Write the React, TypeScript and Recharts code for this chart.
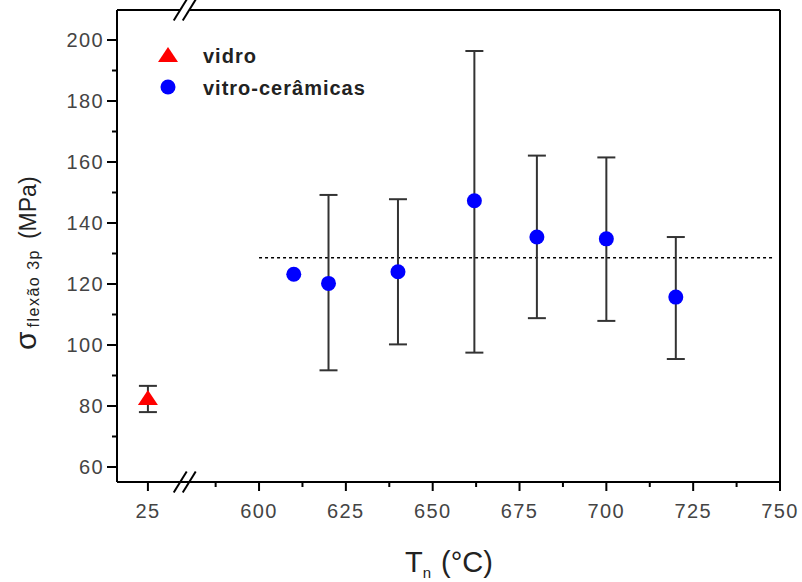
import React from 'react';
import { ScatterChart, Scatter, XAxis, YAxis, ErrorBar, ReferenceLine, Legend } from 'recharts';

// ---- data ----
const SERIES_NAMES = ['vidro', 'vitro-cerâmicas'];
const SERIES_COLORS = ['#ff0000', '#0000ff'];

const VIDRO_T = [25];
const VIDRO_S = [82.6];
const VIDRO_HI = [86.6];
const VIDRO_LO = [78.0];

const VC_T = [610, 620, 640, 662, 680, 700, 720];
const VC_S = [123.2, 120.2, 124.0, 147.3, 135.4, 134.8, 115.7];
const VC_HI: (number | null)[] = [null, 149.2, 147.8, 196.4, 162.1, 161.5, 135.4];
const VC_LO: (number | null)[] = [null, 91.7, 100.2, 97.5, 108.8, 107.9, 95.4];

const MEAN_S = 128.6;
const MEAN_T_RANGE = [600, 748.5];

const X_MAJOR_REAL = [25, 600, 625, 650, 675, 700, 725, 750];
const X_MAJOR_LABELS = ['25', '600', '625', '650', '675', '700', '725', '750'];
const X_MINOR_REAL = [587.5, 612.5, 637.5, 662.5, 687.5, 712.5, 737.5];
const Y_MAJOR = [60, 80, 100, 120, 140, 160, 180, 200];
const Y_MINOR = [70, 90, 110, 130, 150, 170, 190];

// ---- broken axis helpers ----
const BREAK_REAL = 600;
const LEFT_SEG_SHIFT = 543; // 25 sits at axis position 568
const toAxis = (t: number) => (t >= BREAK_REAL ? t : t + LEFT_SEG_SHIFT);
const X_DOMAIN: [number, number] = [559.1, 750];
const Y_DOMAIN: [number, number] = [55.08, 209.84];
const BREAK_MARKS = [577.3, 579.9];
const BREAK_DX = 1.87;
const BREAK_DY = 3.44;

const FONT = '"Liberation Sans", Arial, sans-serif';

const vidroData = VIDRO_T.map((t, i) => ({
  x: toAxis(t),
  y: VIDRO_S[i],
  err: [VIDRO_S[i] - VIDRO_LO[i], VIDRO_HI[i] - VIDRO_S[i]],
}));

const vcData = VC_T.map((t, i) => ({
  x: toAxis(t),
  y: VC_S[i],
  err:
    VC_HI[i] == null || VC_LO[i] == null
      ? null
      : [VC_S[i] - (VC_LO[i] as number), (VC_HI[i] as number) - VC_S[i]],
}));

const X_TICKS = [...X_MAJOR_REAL.map(toAxis), ...X_MINOR_REAL].sort((a, b) => a - b);
const Y_TICKS = [...Y_MAJOR, ...Y_MINOR].sort((a, b) => a - b);

const xLabelFor = (pos: number) => {
  const idx = X_MAJOR_REAL.findIndex((r) => Math.abs(toAxis(r) - pos) < 1e-6);
  return idx >= 0 ? X_MAJOR_LABELS[idx] : null;
};

const renderXTick = (props: any) => {
  const { x, y, payload } = props;
  const label = xLabelFor(payload.value);
  const major = label !== null;
  return (
    <g>
      <line x1={x} y1={y} x2={x} y2={y + (major ? 9 : 5)} stroke="#000" strokeWidth={2} />
      {major && (
        <text
          x={x}
          y={y + 36}
          textAnchor="middle"
          fontFamily={FONT}
          fontSize={20}
          letterSpacing={1.4}
          fill="#444"
        >
          {label}
        </text>
      )}
    </g>
  );
};

const renderYTick = (props: any) => {
  const { x, y, payload } = props;
  const major = Y_MAJOR.includes(payload.value);
  return (
    <g>
      <line x1={x} y1={y} x2={x - (major ? 10 : 5)} y2={y} stroke="#000" strokeWidth={2} />
      {major && (
        <text
          x={x - 13}
          y={y + 7}
          textAnchor="end"
          fontFamily={FONT}
          fontSize={20}
          letterSpacing={1.4}
          fill="#444"
        >
          {payload.value}
        </text>
      )}
    </g>
  );
};

const renderYLabel = () => (
  <text
    x={36}
    y={350}
    transform="rotate(-90, 36, 350)"
    textAnchor="start"
    fontFamily={FONT}
    fill="#222"
  >
    <tspan fontSize={30}>σ</tspan>
    <tspan fontSize={16} dy={3} dx={4} letterSpacing={1.5}>
      flexão 3p
    </tspan>
    <tspan fontSize={23} dy={-3} dx={10}>
      (MPa)
    </tspan>
  </text>
);

const renderXLabel = () => (
  <text x={405} y={572} fontFamily={FONT} fill="#222">
    <tspan fontSize={29}>T</tspan>
    <tspan fontSize={15} dy={6}>
      n
    </tspan>
    <tspan fontSize={29} dy={-6} dx={10}>
      (°C)
    </tspan>
  </text>
);

const renderLegend = () => (
  <div style={{ fontFamily: FONT, fontWeight: 700, fontSize: 20, letterSpacing: 1.0, color: '#222' }}>
    {SERIES_NAMES.map((name, i) => (
      <div key={name} style={{ display: 'flex', alignItems: 'center', height: 32 }}>
        <svg width={24} height={24} style={{ marginRight: 23, flex: 'none' }}>
          {i === 0 ? (
            <polygon points="12,4 2,19 22,19" fill={SERIES_COLORS[i]} />
          ) : (
            <circle cx={12} cy={12} r={7.5} fill={SERIES_COLORS[i]} />
          )}
        </svg>
        <span style={{ paddingTop: 3 }}>{name}</span>
      </div>
    ))}
  </div>
);

const triangleShape = (props: any) => {
  const { cx, cy } = props;
  return <polygon points={`${cx},${cy - 8} ${cx - 10},${cy + 7} ${cx + 10},${cy + 7}`} fill={SERIES_COLORS[0]} />;
};

const circleShape = (props: any) => {
  const { cx, cy } = props;
  return <circle cx={cx} cy={cy} r={7.5} fill={SERIES_COLORS[1]} />;
};

const breakLines = (yy: number, keyPrefix: string) => [
  <ReferenceLine
    key={`${keyPrefix}-gap`}
    segment={[
      { x: BREAK_MARKS[0], y: yy },
      { x: BREAK_MARKS[1], y: yy },
    ]}
    stroke="#fff"
    strokeWidth={4}
    ifOverflow="visible"
  />,
  ...BREAK_MARKS.map((b, i) => (
    <ReferenceLine
      key={`${keyPrefix}-s${i}`}
      segment={[
        { x: b - BREAK_DX, y: yy - BREAK_DY },
        { x: b + BREAK_DX, y: yy + BREAK_DY },
      ]}
      stroke="#000"
      strokeWidth={2}
      ifOverflow="visible"
    />
  )),
];

export default function App() {
  return (
    <div style={{ position: 'absolute', left: 0, top: 0, background: '#fff' }}>
      <ScatterChart width={802} height={582} margin={{ top: 10, right: 22, bottom: 0, left: 0 }}>
        <XAxis
          type="number"
          dataKey="x"
          domain={X_DOMAIN}
          allowDataOverflow
          ticks={X_TICKS}
          interval={0}
          tickSize={0}
          tickMargin={0}
          tickLine={false}
          tick={renderXTick}
          axisLine={{ stroke: '#000', strokeWidth: 2 }}
          height={100}
          label={{ content: renderXLabel }}
        />
        <YAxis
          type="number"
          dataKey="y"
          domain={Y_DOMAIN}
          allowDataOverflow
          ticks={Y_TICKS}
          interval={0}
          tickSize={0}
          tickMargin={0}
          tickLine={false}
          tick={renderYTick}
          axisLine={{ stroke: '#000', strokeWidth: 2 }}
          width={117}
          label={{ content: renderYLabel }}
        />
        <ReferenceLine y={Y_DOMAIN[1]} stroke="#000" strokeWidth={2} ifOverflow="visible" />
        <ReferenceLine x={X_DOMAIN[1]} stroke="#000" strokeWidth={2} ifOverflow="visible" />
        <ReferenceLine
          segment={[
            { x: MEAN_T_RANGE[0], y: MEAN_S },
            { x: MEAN_T_RANGE[1], y: MEAN_S },
          ]}
          stroke="#000"
          strokeWidth={1.5}
          strokeDasharray="3 3"
          ifOverflow="visible"
        />
        {breakLines(Y_DOMAIN[0], 'bottom')}
        {breakLines(Y_DOMAIN[1], 'top')}
        <Scatter
          name={SERIES_NAMES[0]}
          data={vidroData}
          dataKey="y"
          fill={SERIES_COLORS[0]}
          shape={triangleShape}
          isAnimationActive={false}
        >
          <ErrorBar dataKey="err" direction="y" width={9} stroke="#333" strokeWidth={2} />
        </Scatter>
        <Scatter
          name={SERIES_NAMES[1]}
          data={vcData}
          dataKey="y"
          fill={SERIES_COLORS[1]}
          shape={circleShape}
          isAnimationActive={false}
        >
          <ErrorBar dataKey="err" direction="y" width={9} stroke="#333" strokeWidth={2} />
        </Scatter>
        <Legend
          layout="vertical"
          align="center"
          verticalAlign="middle"
          wrapperStyle={{ left: 156, top: 39, width: 'auto', height: 'auto' }}
          content={renderLegend}
        />
      </ScatterChart>
    </div>
  );
}
